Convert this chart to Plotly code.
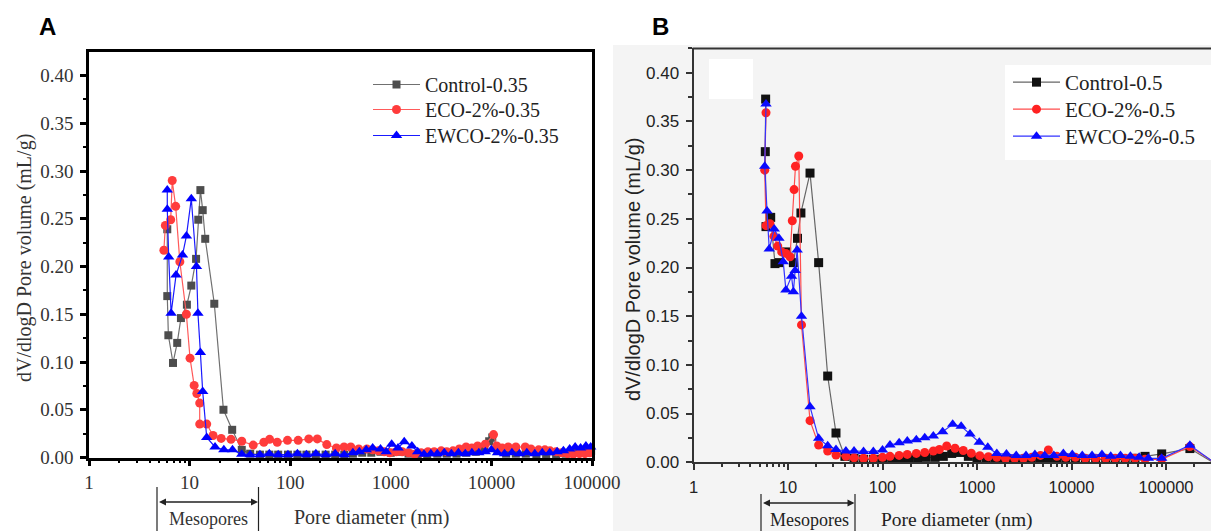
import plotly.graph_objects as go

W, H = 1211, 531

# ---------------- Panel A data (w/c 0.35) ----------------
ctrlA_d = [6.0, 6.0, 6.15, 6.84, 7.53, 8.2, 9.4, 10.4, 11.6, 12.2, 12.8, 13.5, 14.3, 17.6, 21.7, 26.5,
           33, 40, 50, 62, 76, 95, 118, 145, 180, 225, 280, 345, 420, 520, 640, 790, 1000, 1200, 1500,
           1850, 2300, 2900, 3600, 4500, 5600, 7000, 8500, 9500, 10200, 11500, 14000, 17500, 22000,
           28000, 35000, 44000, 55000, 68000, 85000, 98000]
ctrlA_v = [0.239, 0.169, 0.128, 0.099, 0.120, 0.146, 0.160, 0.180, 0.208, 0.249, 0.280, 0.259, 0.229, 0.161, 0.050, 0.029,
           0.008, 0.004, 0.003, 0.003, 0.003, 0.003, 0.003, 0.003, 0.003, 0.003, 0.003, 0.003, 0.004, 0.005, 0.005, 0.006, 0.005, 0.006, 0.004,
           0.003, 0.003, 0.004, 0.004, 0.004, 0.005, 0.006, 0.010, 0.017, 0.021, 0.007, 0.004, 0.004, 0.004,
           0.003, 0.003, 0.003, 0.004, 0.005, 0.006, 0.007]

ecoA_d = [5.55, 5.74, 6.49, 6.72, 7.27, 8.0, 9.29, 10.1, 11.1, 11.8, 12.6, 12.6, 14.8, 17.1, 20.6, 25.8,
          33, 42.9, 54.7, 62.4, 74.3, 94, 120, 153, 186, 231, 288, 343, 400, 480, 579, 660, 753, 860, 980,
          1130, 1300, 1500, 1730, 2000, 2340, 2700, 3170, 3600, 4150, 4800, 5600, 6400, 7300, 8700, 10500,
          11300, 12800, 14700, 17500, 21700, 24700, 29500, 34000, 38300, 44000, 50000, 57000, 65000, 75000,
          85000, 95000]
ecoA_v = [0.217, 0.243, 0.249, 0.290, 0.263, 0.205, 0.150, 0.104, 0.0755, 0.067, 0.057, 0.035, 0.035, 0.023, 0.020, 0.019,
          0.017, 0.013, 0.016, 0.019, 0.016, 0.018, 0.018, 0.0195, 0.0195, 0.0135, 0.010, 0.011, 0.011, 0.009, 0.009, 0.008, 0.007, 0.006, 0.005,
          0.006, 0.006, 0.005, 0.0035, 0.005, 0.006, 0.006, 0.007, 0.006, 0.007, 0.009, 0.011, 0.010, 0.012, 0.014, 0.024,
          0.012, 0.010, 0.011, 0.011, 0.011, 0.009, 0.008, 0.008, 0.007, 0.006, 0.005, 0.004, 0.0035, 0.004,
          0.004, 0.005]

ewcoA_d = [6.0, 6.0, 6.2, 6.55, 7.33, 8.5, 9.3, 10.4, 11.7, 12.1, 12.8, 13.5, 14.8, 17.9, 21.9, 26.7,
           33, 40, 50, 62, 76, 95, 118, 145, 180, 225, 280, 345, 420, 486, 570, 660, 790, 900, 1020, 1180,
           1360, 1620, 1850, 2140, 2500, 2900, 3400, 4000, 4700, 5500, 6400, 7500, 8700, 10000, 11500,
           13500, 16000, 19000, 22500, 27000, 32000, 38000, 45000, 52000, 60000, 68000, 77000, 87000, 97000]
ewcoA_v = [0.280, 0.260, 0.210, 0.151, 0.191, 0.212, 0.232, 0.271, 0.200, 0.151, 0.110, 0.069, 0.021, 0.011, 0.008, 0.008,
           0.0035, 0.003, 0.003, 0.004, 0.003, 0.003, 0.004, 0.003, 0.004, 0.003, 0.004, 0.003, 0.005, 0.006, 0.008, 0.010, 0.009, 0.006, 0.014, 0.010,
           0.0165, 0.012, 0.006, 0.0035, 0.004, 0.004, 0.005, 0.004, 0.005, 0.004, 0.005, 0.005, 0.006, 0.008, 0.005,
           0.004, 0.005, 0.004, 0.005, 0.004, 0.005, 0.005, 0.006, 0.007, 0.009, 0.011, 0.010, 0.012, 0.011]

# ---------------- Panel B data (w/c 0.5) ----------------
ctrlB_d = [5.8, 5.75, 5.85, 6.56, 7.28, 8.09, 9.68, 11.4, 12.6, 13.7, 17.1, 21.1, 26.3, 32.2,
           40, 50, 63, 80, 100, 125, 155, 190, 235, 290, 360, 440, 540, 660, 810, 1000, 1250, 1550, 1900,
           2400, 3000, 3700, 4600, 5700, 7000, 8700, 11000, 14000, 18000, 23000, 29000, 37000, 47000,
           60000, 90000, 179000, 300000]
ctrlB_v = [0.373, 0.319, 0.242, 0.2515, 0.204, 0.205, 0.216, 0.205, 0.230, 0.256, 0.297, 0.205, 0.0885, 0.030,
           0.006, 0.004, 0.003, 0.003, 0.003, 0.003, 0.004, 0.004, 0.004, 0.005, 0.005, 0.006, 0.009, 0.010, 0.006, 0.004, 0.003, 0.003, 0.003,
           0.003, 0.003, 0.003, 0.003, 0.003, 0.003, 0.003, 0.003, 0.003, 0.003, 0.003, 0.003, 0.003, 0.004,
           0.006, 0.0085, 0.014, 0.001]

ecoB_d = [5.85, 5.67, 5.85, 6.44, 7.1, 7.79, 8.58, 9.5, 10.5, 11.1, 11.6, 12.0, 13.0, 13.9, 17.1, 21.1, 26.3, 32.2,
          41, 50, 63, 80, 100, 120, 150, 183, 228, 280, 345, 400, 478, 585, 716, 870, 1070, 1320, 1620, 2000,
          2500, 3100, 3800, 4700, 5690, 7000, 8700, 11000, 14000, 18000, 23000, 29000, 37000, 47000, 60000,
          90000, 179000, 300000]
ecoB_v = [0.359, 0.300, 0.243, 0.245, 0.232, 0.222, 0.216, 0.2145, 0.211, 0.248, 0.280, 0.304, 0.3145, 0.141, 0.0427, 0.0177, 0.0115, 0.0074,
          0.006, 0.0045, 0.004, 0.004, 0.005, 0.006, 0.007, 0.008, 0.009, 0.010, 0.0115, 0.013, 0.0166, 0.0143, 0.012, 0.0092, 0.0067, 0.0057, 0.005, 0.004,
          0.004, 0.004, 0.005, 0.007, 0.0125, 0.006, 0.005, 0.005, 0.004, 0.004, 0.004, 0.004, 0.004, 0.004, 0.003,
          0.003, 0.016, 0.002]

ewcoB_d = [5.85, 5.67, 6.0, 6.33, 7.15, 8.02, 8.9, 9.5, 10.9, 11.4, 11.9, 12.5, 13.9, 17.1, 21.1, 26.3, 32.2,
           41, 50, 63, 80, 100, 120, 150, 183, 228, 280, 345, 433, 553, 680, 843, 1057, 1300, 1620, 2050,
           2600, 3300, 4100, 5200, 6500, 8200, 10200, 13000, 16500, 21000, 26000, 33000, 42000, 52000,
           65000, 90000, 179000, 300000]
ewcoB_v = [0.368, 0.304, 0.258, 0.219, 0.2395, 0.230, 0.206, 0.177, 0.191, 0.175, 0.197, 0.218, 0.150, 0.057, 0.0245, 0.017, 0.013,
           0.0115, 0.0115, 0.011, 0.011, 0.0125, 0.0177, 0.020, 0.0217, 0.023, 0.025, 0.0268, 0.0313, 0.0389, 0.037, 0.029, 0.0206, 0.0154, 0.0089, 0.0085,
           0.007, 0.007, 0.008, 0.007, 0.007, 0.009, 0.008, 0.007, 0.007, 0.008, 0.006, 0.007, 0.006, 0.005,
           0.004, 0.004, 0.0175, 0.002]

namesA = ["Control-0.35", "ECO-2%-0.35", "EWCO-2%-0.35"]
namesB = ["Control-0.5", "ECO-2%-0.5", "EWCO-2%-0.5"]
yticks = [0.00, 0.05, 0.10, 0.15, 0.20, 0.25, 0.30, 0.35, 0.40]
xticks = [1, 10, 100, 1000, 10000, 100000]
xticklabels = ["1", "10", "100", "1000", "10000", "100000"]


def px(x):
    return x / W


def py(y):
    return 1 - y / H


SERIF = "Liberation Serif"
SANS = "Liberation Sans"

fig = go.Figure()

styleA = [
    dict(symbol="square", color="#4d4d4d", line="#707070", size=8),
    dict(symbol="circle", color="#ff3c3c", line="#ff5a5a", size=9),
    dict(symbol="triangle-up", color="#0000ff", line="#1a1aff", size=10),
]
styleB = [
    dict(symbol="square", color="#111111", line="#666666", size=9),
    dict(symbol="circle", color="#ff2222", line="#ff4d4d", size=9),
    dict(symbol="triangle-up", color="#0a0aff", line="#3333ff", size=10),
]

legA_ids = ["legend", "legend2", "legend3"]
legB_ids = ["legend4", "legend5", "legend6"]

for d, v, nm, st, lg in zip([ctrlA_d, ecoA_d, ewcoA_d], [ctrlA_v, ecoA_v, ewcoA_v], namesA, styleA, legA_ids):
    fig.add_trace(go.Scatter(x=d, y=v, name=nm, mode="lines+markers", xaxis="x", yaxis="y",
                             legend=lg, cliponaxis=False,
                             line=dict(color=st["line"], width=1.2),
                             marker=dict(symbol=st["symbol"], color=st["color"], size=st["size"])))

for d, v, nm, st, lg in zip([ctrlB_d, ecoB_d, ewcoB_d], [ctrlB_v, ecoB_v, ewcoB_v], namesB, styleB, legB_ids):
    fig.add_trace(go.Scatter(x=d, y=v, name=nm, mode="lines+markers", xaxis="x2", yaxis="y2",
                             legend=lg, cliponaxis=False,
                             line=dict(color=st["line"], width=1.2),
                             marker=dict(symbol=st["symbol"], color=st["color"], size=st["size"])))

# Axis geometry (pixels)
A_left, A_right, A_top, A_bot = 89, 592, 52, 457.5
B_left, B_top, B_bot = 693.5, 48.4, 462.2
A_yr = (A_bot - A_top) / 955.0
B_yr = (B_bot - B_top) / 973.5
B_xr = (W - B_left) / 94.5

axA_x = dict(type="log", domain=[px(A_left), px(A_right)], range=[0, 5], anchor="y",
             tickvals=xticks, ticktext=xticklabels, ticks="outside", ticklen=6, tickwidth=2.5,
             tickcolor="#000", showline=True, linecolor="#000", linewidth=2.5, mirror=True,
             showgrid=False, zeroline=False, ticklabelstandoff=0, automargin=False,
             tickfont=dict(family=SERIF, size=19, color="#333"),
             minor=dict(ticks="outside", ticklen=3, tickwidth=1.5, tickcolor="#000", dtick="D1", showgrid=False))
axA_y = dict(domain=[py(A_bot), py(A_top)], range=[0, A_yr], anchor="x",
             tickvals=yticks, tickformat=".2f", ticks="outside", ticklen=6, tickwidth=2.5,
             tickcolor="#000", showline=True, linecolor="#000", linewidth=2.5, mirror=True,
             showgrid=False, zeroline=False, ticklabelstandoff=3, automargin=False,
             tickfont=dict(family=SERIF, size=19, color="#333"),
             minor=dict(ticks="outside", ticklen=3.5, tickwidth=1.5, tickcolor="#000", dtick=0.025, showgrid=False))
axB_x = dict(type="log", domain=[px(B_left), 1.0], range=[0, B_xr], anchor="y2",
             tickvals=xticks, ticktext=xticklabels, ticks="outside", ticklen=6, tickwidth=2,
             tickcolor="#333", showline=True, linecolor="#333", linewidth=2,
             showgrid=False, zeroline=False, ticklabelstandoff=3, automargin=False,
             tickfont=dict(family=SANS, size=16.5, color="#222"),
             minor=dict(ticks="outside", ticklen=3, tickwidth=1.5, tickcolor="#333", dtick="D1", showgrid=False))
axB_y = dict(domain=[py(B_bot), py(B_top)], range=[0, B_yr], anchor="x2",
             tickvals=yticks, tickformat=".2f", ticks="outside", ticklen=6, tickwidth=2,
             tickcolor="#333", showline=True, linecolor="#333", linewidth=2,
             showgrid=False, zeroline=False, ticklabelstandoff=3, automargin=False,
             tickfont=dict(family=SANS, size=17, color="#222"),
             minor=dict(ticks="outside", ticklen=3.5, tickwidth=1.5, tickcolor="#333", dtick=0.025, showgrid=False))

shapes = [
    # light grey background of panel B
    dict(type="rect", xref="paper", yref="paper", x0=px(613), x1=1.0, y0=0, y1=py(45),
         fillcolor="#f4f4f4", line=dict(width=0), layer="below"),
    # white patch
    dict(type="rect", xref="paper", yref="paper", x0=px(709), x1=px(753), y0=py(99), y1=py(59),
         fillcolor="#ffffff", line=dict(width=0), layer="below"),
    # legend box B
    dict(type="rect", xref="paper", yref="paper", x0=px(1005), x1=1.0, y0=py(160), y1=py(65),
         fillcolor="#ffffff", line=dict(width=0), layer="below"),
    # top border panel B
    dict(type="line", xref="paper", yref="paper", x0=px(B_left - 1), x1=1.0, y0=py(B_top), y1=py(B_top),
         line=dict(color="#333", width=2)),
    # mesopores brackets A
    dict(type="line", xref="paper", yref="paper", x0=px(157), x1=px(157), y0=py(487), y1=py(531),
         line=dict(color="#222", width=1.2)),
    dict(type="line", xref="paper", yref="paper", x0=px(258.5), x1=px(258.5), y0=py(487), y1=py(531),
         line=dict(color="#222", width=1.2)),
    # mesopores brackets B
    dict(type="line", xref="paper", yref="paper", x0=px(761), x1=px(761), y0=py(494), y1=py(531),
         line=dict(color="#222", width=1.2)),
    dict(type="line", xref="paper", yref="paper", x0=px(855), x1=px(855), y0=py(494), y1=py(531),
         line=dict(color="#222", width=1.2)),
]

annotations = [
    dict(text="<b>A</b>", x=px(47), y=py(27), xref="paper", yref="paper", showarrow=False,
         font=dict(family=SANS, size=24, color="#000"), xanchor="center", yanchor="middle"),
    dict(text="<b>B</b>", x=px(660), y=py(27), xref="paper", yref="paper", showarrow=False,
         font=dict(family=SANS, size=24, color="#000"), xanchor="center", yanchor="middle"),
    dict(text="dV/dlogD Pore volume (mL/g)", x=px(24), y=py(258), xref="paper", yref="paper",
         showarrow=False, textangle=-90, font=dict(family=SERIF, size=20, color="#333"),
         xanchor="center", yanchor="middle"),
    dict(text="Pore diameter (nm)", x=px(372), y=py(517), xref="paper", yref="paper",
         showarrow=False, font=dict(family=SERIF, size=20, color="#333"), xanchor="center", yanchor="middle"),
    dict(text="dV/dlogD Pore volume (mL/g)", x=px(633), y=py(270), xref="paper", yref="paper",
         showarrow=False, textangle=-90, font=dict(family=SANS, size=20, color="#222"),
         xanchor="center", yanchor="middle"),
    dict(text="Pore diameter (nm)", x=px(957), y=py(520), xref="paper", yref="paper",
         showarrow=False, font=dict(family=SERIF, size=19.5, color="#222"), xanchor="center", yanchor="middle"),
    dict(text="Mesopores", x=px(208), y=py(519), xref="paper", yref="paper",
         showarrow=False, font=dict(family=SERIF, size=18, color="#333"), xanchor="center", yanchor="middle"),
    dict(text="Mesopores", x=px(809), y=py(520), xref="paper", yref="paper",
         showarrow=False, font=dict(family=SERIF, size=18, color="#222"), xanchor="center", yanchor="middle"),
    # double-headed arrows
    dict(text="", x=px(258), y=py(502), xref="paper", yref="paper", ax=-100.5, ay=0,
         axref="pixel", ayref="pixel", showarrow=True, arrowhead=2, arrowside="end+start",
         arrowsize=1, arrowwidth=1.4, arrowcolor="#222", standoff=0, startstandoff=0),
    dict(text="", x=px(854.5), y=py(503), xref="paper", yref="paper", ax=-93, ay=0,
         axref="pixel", ayref="pixel", showarrow=True, arrowhead=2, arrowside="end+start",
         arrowsize=1, arrowwidth=1.4, arrowcolor="#222", standoff=0, startstandoff=0),
]


def leg(xpix, ytop, size):
    return dict(x=px(xpix), y=py(ytop), xanchor="left", yanchor="top", bgcolor="rgba(0,0,0,0)",
                borderwidth=0, itemwidth=47, font=dict(family=SERIF, size=size, color="#222"),
                tracegroupgap=0)


fig.update_layout(
    width=W, height=H, margin=dict(l=0, r=0, t=0, b=0, pad=0, autoexpand=False),
    paper_bgcolor="#ffffff", plot_bgcolor="rgba(0,0,0,0)",
    xaxis=axA_x, yaxis=axA_y, xaxis2=axB_x, yaxis2=axB_y,
    shapes=shapes, annotations=annotations,
    legend=leg(368, 65, 20), legend2=leg(368, 90, 20), legend3=leg(368, 116, 20),
    legend4=leg(1008, 62, 21), legend5=leg(1008, 89, 21), legend6=leg(1008, 116, 21),
    showlegend=True,
)

fig.write_html("out.html")
